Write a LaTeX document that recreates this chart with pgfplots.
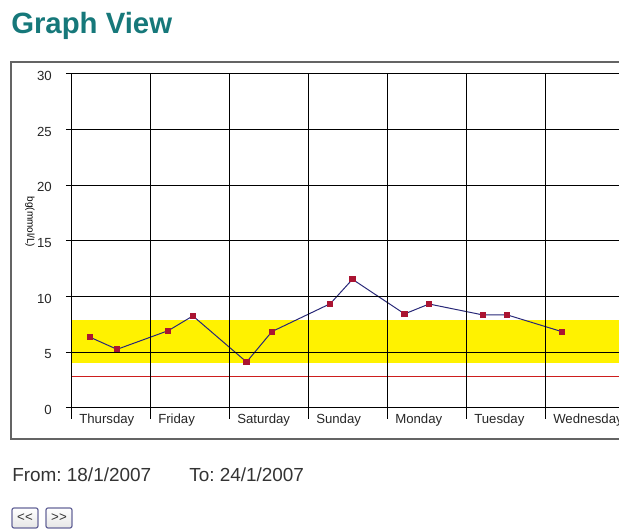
\documentclass[border=0pt]{standalone}
\usepackage{pgfplots}
\pgfplotsset{compat=1.18}
\usepackage{fontspec}
\setmainfont{Liberation Sans}
\setsansfont{Liberation Sans}
\definecolor{titleteal}{RGB}{22,120,122}
\definecolor{markred}{RGB}{170,20,50}
\definecolor{linenavy}{RGB}{40,40,120}
\definecolor{limitred}{RGB}{205,30,30}
\definecolor{framegray}{RGB}{100,100,100}
\newlength\px
\setlength\px{0.75pt}
\frenchspacing
\begin{document}
\begin{tikzpicture}
\useasboundingbox (0,0) rectangle (619\px,-530\px);
\clip (0,0) rectangle (619\px,-530\px);
% title
\node[anchor=base west, inner sep=0pt, text=titleteal, font=\fontsize{22}{26}\selectfont\bfseries] at (11\px,-34\px) {Graph View};
% outer frame
\draw[framegray, line width=2\px] (700\px,-62\px) -- (11\px,-62\px) -- (11\px,-439\px) -- (700\px,-439\px);
\begin{axis}[
  at={(72\px,-408\px)}, anchor=south west,
  scale only axis, width=547\px, height=334\px,
  xmin=0, xmax=6.924, ymin=0, ymax=30,
  axis line style={draw=none},
  axis on top,
  xtick={0,1,2,3,4,5,6},
  xticklabels={Thursday,Friday,Saturday,Sunday,Monday,Tuesday,Wednesday},
  ytick={0,5,10,15,20,25,30},
  xtick pos=bottom, ytick pos=left,
  tick align=outside,
  major tick length=6\px,
  xtick style={/pgfplots/major tick length=11\px},
  tick style={black, line width=1\px},
  grid=major,
  grid style={black, line width=1\px},
  /pgf/number format/assume math mode=true,
  ticklabel style={font=\fontsize{9.9}{12}\selectfont, text=black!85},
  xticklabel style={anchor=north west, inner sep=0pt, xshift=7\px, yshift=0\px},
  yticklabel style={anchor=east, inner sep=0pt, xshift=-14\px, yshift=-2\px},
  ylabel={bg(mmol/L)},
  ylabel style={rotate=180, font=\fontsize{7.5}{9}\selectfont, at={(axis description cs:-0.0768,0.557)}, anchor=center},
  clip=true,
]
\addplot[draw=none, fill=yellow] coordinates {(0,4) (7,4) (7,7.9) (0,7.9)} -- cycle;
\addplot[limitred, line width=1\px] coordinates {(0,2.8) (7,2.8)};
\addplot[linenavy, line width=1\px, mark=square*, mark size=2.6\px,
  mark options={fill=markred, draw=markred}] coordinates {
  (0.23,6.35) (0.57,5.27) (1.22,6.95) (1.53,8.27) (2.21,4.13) (2.53,6.86)
  (3.27,9.37) (3.55,11.56) (4.21,8.45) (4.52,9.34) (5.20,8.36) (5.51,8.36)
  (6.20,6.86)};
\end{axis}
% date range
\node[anchor=base west, inner sep=0pt, font=\fontsize{14.2}{17}\selectfont, text=black!80] at (12\px,-482\px) {From: 18/1/2007};
\node[anchor=base west, inner sep=0pt, font=\fontsize{14.2}{17}\selectfont, text=black!80] at (189\px,-482\px) {To: 24/1/2007};
% buttons
\draw[rounded corners=2\px, draw=gray!80!blue, line width=1.2\px, top color=white, bottom color=gray!20] (12\px,-508\px) rectangle (38\px,-528\px);
\draw[rounded corners=2\px, draw=gray!80!blue, line width=1.2\px, top color=white, bottom color=gray!20] (46\px,-508\px) rectangle (72\px,-528\px);
\node[font=\fontsize{10}{12}\selectfont, text=black!80] at (25\px,-518\px) {{<}{<}};
\node[font=\fontsize{10}{12}\selectfont, text=black!80] at (59\px,-518\px) {{>}{>}};
\end{tikzpicture}
\end{document}
